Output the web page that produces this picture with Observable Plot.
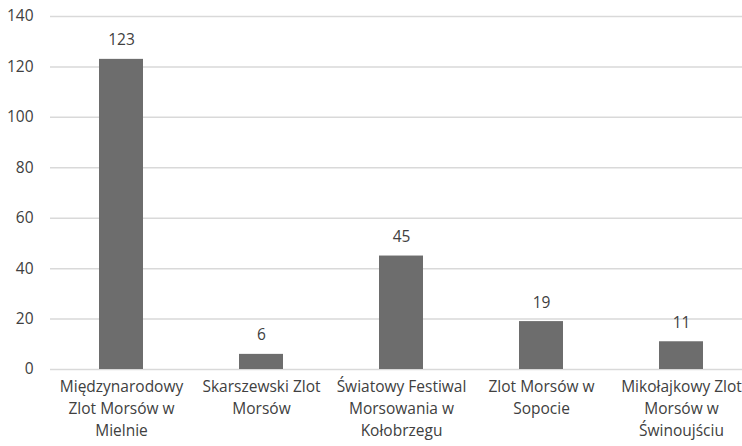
<!DOCTYPE html>
<html><head><meta charset="utf-8">
<script src="https://cdn.jsdelivr.net/npm/d3@7"></script>
<script src="https://cdn.jsdelivr.net/npm/@observablehq/plot@0.6"></script>
<style>body{margin:0;background:#fff}</style>
</head><body><div id="chart"></div>
<script>
const categories = ["Międzynarodowy Zlot Morsów w Mielnie","Skarszewski Zlot Morsów","Światowy Festiwal Morsowania w Kołobrzegu","Zlot Morsów w Sopocie","Mikołajkowy Zlot Morsów w Świnoujściu"];
const labels = ["Międzynarodowy\nZlot Morsów w\nMielnie","Skarszewski Zlot\nMorsów","Światowy Festiwal\nMorsowania w\nKołobrzegu","Zlot Morsów w\nSopocie","Mikołajkowy Zlot\nMorsów w\nŚwinoujściu"];
const values = [123, 6, 45, 19, 11];
const yTicks = [0,20,40,60,80,100,120,140];
const data = categories.map((c,i)=>({c, v: values[i], label: labels[i]}));
const font = "'Open Sans', 'Noto Sans', sans-serif";
const fs = 15.5;
const chart = Plot.plot({
  width: 742, height: 446,
  marginTop: 16, marginLeft: 50, marginRight: 0, marginBottom: 77,
  style: {fontFamily: font, fontSize: fs + "px", color: "#404040", background: "#fff"},
  x: {domain: categories, range: [50.5, 750.5], paddingInner: 0.686, paddingOuter: 0.343, align: 0.5, label: null},
  y: {domain: [0,140], label: null},
  marks: [
    Plot.gridY(yTicks, {stroke: "#d9d9d9", strokeOpacity: 1, strokeWidth: 1.5}),
    Plot.axisY(yTicks, {tickSize: 0, tickPadding: 17, fill: "#404040", fontSize: fs}),
    Plot.axisX({tickSize: 0, tickPadding: 7, tickFormat: (d)=>labels[categories.indexOf(d)], lineHeight: 1.42, fill: "#404040", fontSize: fs, textAnchor: "middle", lineAnchor: "top"}),
    Plot.barY(data, {x: "c", y: "v", fill: "#6d6d6d"}),
    Plot.text(data, {x: "c", y: "v", text: d=>String(d.v), dy: -19, fill: "#404040", fontSize: fs}),
  ]
});
document.getElementById("chart").append(chart);
</script></body></html>
